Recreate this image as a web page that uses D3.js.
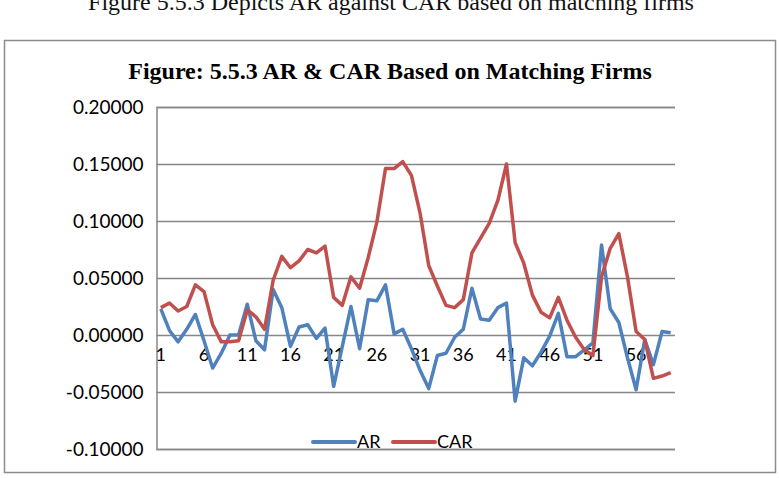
<!DOCTYPE html>
<html lang="en">
  <head>
    <meta charset="UTF-8" />
    <title>AR & CAR Based on Matching Firms</title>
    <style>
      body { margin: 0; background: #fff; }
    </style>
  </head>
  <body>
    <svg id="svg" width="779" height="478"></svg>

    <script src="https://cdn.jsdelivr.net/npm/d3@7"></script>
    <script>
      const WIDTH = 779;
      const HEIGHT = 478;

      // event days 1..60
      const days = [
        1, 2, 3, 4, 5, 6, 7, 8, 9, 10, 11, 12, 13, 14, 15, 16, 17, 18, 19, 20,
        21, 22, 23, 24, 25, 26, 27, 28, 29, 30, 31, 32, 33, 34, 35, 36, 37, 38, 39, 40,
        41, 42, 43, 44, 45, 46, 47, 48, 49, 50, 51, 52, 53, 54, 55, 56, 57, 58, 59, 60
      ];
      const dayLabels = [1, 6, 11, 16, 21, 26, 31, 36, 41, 46, 51, 56];

      const arValues = [
        0.023, 0.004, -0.006, 0.005, 0.018, -0.005, -0.029, -0.016, 0.000, 0.000,
        0.027, -0.005, -0.013, 0.040, 0.024, -0.010, 0.007, 0.009, -0.003, 0.006,
        -0.045, -0.010, 0.025, -0.012, 0.031, 0.030, 0.044, 0.001, 0.005, -0.012,
        -0.031, -0.047, -0.018, -0.016, -0.002, 0.005, 0.041, 0.014, 0.013, 0.024,
        0.028, -0.058, -0.020, -0.027, -0.015, -0.001, 0.019, -0.019, -0.019, -0.013,
        -0.007, 0.079, 0.023, 0.011, -0.020, -0.048, -0.004, -0.026, 0.003, 0.002
      ];
      const carValues = [
        0.024, 0.028, 0.021, 0.025, 0.044, 0.038, 0.009, -0.006, -0.006, -0.005,
        0.022, 0.016, 0.005, 0.048, 0.069, 0.059, 0.065, 0.075, 0.072, 0.078,
        0.033, 0.026, 0.051, 0.041, 0.068, 0.099, 0.146, 0.146, 0.152, 0.140,
        0.107, 0.061, 0.043, 0.026, 0.024, 0.031, 0.072, 0.085, 0.098, 0.118,
        0.150, 0.081, 0.063, 0.035, 0.020, 0.015, 0.033, 0.013, -0.002, -0.013,
        -0.018, 0.051, 0.076, 0.089, 0.051, 0.003, -0.004, -0.038, -0.036, -0.033
      ];
      const yTicks = [0.2, 0.15, 0.1, 0.05, 0, -0.05, -0.1];

      const seriesNames = ["AR", "CAR"];
      const seriesColors = ["#4f81bd", "#c0504d"];

      const PLOT = { left: 156.5, right: 675, top: 107, bottom: 449 };
      const LABEL_FONT = "Lato, 'Open Sans', sans-serif";

      const svg = d3.select("#svg");

      svg.append("rect")
        .attr("width", WIDTH)
        .attr("height", HEIGHT)
        .attr("fill", "#fff");

      // caption above the chart box (page crop cuts its top off, as in the source)
      svg.append("text")
        .attr("x", 391)
        .attr("y", 10)
        .attr("text-anchor", "middle")
        .attr("font-family", "'Liberation Serif', serif")
        .attr("font-size", 24)
        .attr("fill", "#111")
        .text("Figure 5.5.3 Depicts AR against CAR based on matching firms");

      // chart frame
      svg.append("rect")
        .attr("x", 4.5)
        .attr("y", 40.5)
        .attr("width", 771)
        .attr("height", 432)
        .attr("fill", "#fff")
        .attr("stroke", "#8c8c8c")
        .attr("stroke-width", 1.5);

      svg.append("text")
        .attr("x", 390)
        .attr("y", 79)
        .attr("text-anchor", "middle")
        .attr("font-family", "'Liberation Serif', serif")
        .attr("font-weight", "bold")
        .attr("font-size", 24)
        .attr("fill", "#000")
        .text("Figure: 5.5.3 AR & CAR Based on Matching Firms");

      const xScale = d3.scaleBand()
        .domain(days)
        .range([PLOT.left, PLOT.right])
        .padding(0);

      const yScale = d3.scaleLinear()
        .domain([-0.1, 0.2])
        .range([PLOT.bottom, PLOT.top]);

      const fmt = (d) => d3.format(".5f")(d).replace("\u2212", "-");

      // gridlines + y labels
      const leftAxis = d3.axisLeft(yScale)
        .tickValues(yTicks)
        .tickFormat(fmt)
        .tickSize(-(PLOT.right - PLOT.left))
        .tickPadding(13);

      const yAxisG = svg.append("g")
        .attr("transform", `translate(${PLOT.left}, 0)`)
        .call(leftAxis);
      yAxisG.select(".domain")
        .attr("stroke", "#868686")
        .attr("stroke-width", 1.5);
      yAxisG.selectAll(".tick line")
        .attr("stroke", "#868686")
        .attr("stroke-width", 1.5);
      yAxisG.selectAll(".tick text")
        .attr("font-family", LABEL_FONT)
        .attr("font-size", 19)
        .attr("fill", "#000");

      // category labels hang under the zero line
      const bottomAxis = d3.axisBottom(xScale)
        .tickValues(dayLabels)
        .tickSize(0)
        .tickPadding(13);

      const xAxisG = svg.append("g")
        .attr("transform", `translate(0, ${yScale(0)})`)
        .call(bottomAxis);
      xAxisG.select(".domain").remove();
      xAxisG.selectAll(".tick text")
        .attr("font-family", LABEL_FONT)
        .attr("font-size", 18)
        .attr("fill", "#000");

      const lineGen = (values) => d3.line()
        .x((d, i) => xScale(days[i]) + xScale.bandwidth() / 2)
        .y((d) => yScale(d))(values);

      const graph = svg.append("g");
      [arValues, carValues].forEach((values, i) => {
        graph.append("path")
          .attr("d", lineGen(values))
          .attr("fill", "none")
          .attr("stroke", seriesColors[i])
          .attr("stroke-width", 3.5)
          .attr("stroke-linejoin", "round");
      });

      // legend
      const legend = svg.append("g").attr("transform", "translate(313, 442)");
      const legendX = [0, 80];
      seriesNames.forEach((name, i) => {
        const g = legend.append("g").attr("transform", `translate(${legendX[i]}, 0)`);
        g.append("line")
          .attr("x1", 0)
          .attr("x2", 42)
          .attr("stroke", seriesColors[i])
          .attr("stroke-width", 4)
          .attr("stroke-linecap", "round");
        g.append("text")
          .attr("x", 44)
          .attr("dy", "0.35em")
          .attr("font-family", LABEL_FONT)
          .attr("font-size", 18)
          .attr("fill", "#000")
          .text(name);
      });
    </script>
  </body>
</html>
